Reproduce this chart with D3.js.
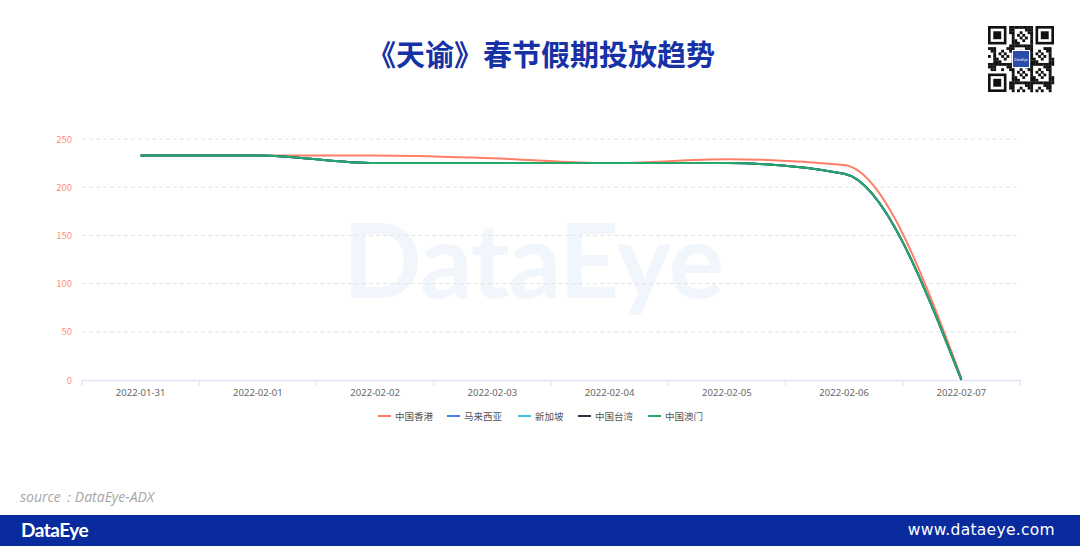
<!DOCTYPE html>
<html><head><meta charset="utf-8">
<script src="https://cdn.jsdelivr.net/npm/d3@7/dist/d3.min.js"></script>
<style>body{margin:0;background:#fff;}svg{display:block;font-family:"Noto Sans CJK SC","Noto Sans",sans-serif;}</style>
</head><body>
<svg id="c" width="1080" height="546"></svg>
<script>
const categories = ["2022-01-31","2022-02-01","2022-02-02","2022-02-03","2022-02-04","2022-02-05","2022-02-06","2022-02-07"];
const seriesNames = ["中国香港","马来西亚","新加坡","中国台湾","中国澳门"];
const seriesColors = ["#ff7f66","#4a7bef","#3cc3df","#2f3542","#26a86a"];
const hongkong = [233,233,233,230,225,229,223,2];
const malaysia = [233,233,225,225,225,225,214,0];
const singapore = [233,233,225,225,225,225,214,0];
const taiwan = [233,233,225,225,225,225,214,0];
const macau = [233,233,225,225,225,225,214,0];
const yTicks = [0,50,100,150,200,250];
const seriesValues = [hongkong, malaysia, singapore, taiwan, macau];

const svg = d3.select("#c");

// watermark
svg.append("text").attr("x",533).attr("y",298).attr("text-anchor","middle")
  .attr("font-family","Lato, 'DejaVu Sans', sans-serif").attr("font-weight",700)
  .attr("font-size",104).attr("fill","#f1f6fc").attr("letter-spacing",-1).text("DataEye");

// title
svg.append("text").attr("x",541).attr("y",66).attr("text-anchor","middle")
  .attr("font-size",29).attr("font-weight",700).attr("fill","#1632a6").text("《天谕》春节假期投放趋势");

const x = d3.scaleBand().domain(categories).range([82,1020]);
const y = d3.scaleLinear().domain([0,250]).range([380,139]);

// grid
svg.append("g").selectAll("line").data(yTicks.filter(d=>d>0)).join("line")
  .attr("x1",82).attr("x2",1020).attr("y1",d=>y(d)).attr("y2",d=>y(d))
  .attr("stroke","#e3e3e3").attr("stroke-dasharray","4,3");

// y labels
svg.append("g").selectAll("text").data(yTicks).join("text")
  .attr("x",72).attr("y",d=>y(d)+3.5).attr("text-anchor","end")
  .attr("font-size",9.5).attr("fill","#ff8f7c").text(d=>d);

// x axis
const xAxis = d3.axisBottom(x).tickSize(0).tickPadding(9);
const gx = svg.append("g").attr("transform","translate(0,380)").call(xAxis);
gx.select(".domain").attr("stroke","#dfe5f2").attr("stroke-width",1.5);
gx.selectAll("text").attr("font-size",9.5).attr("fill","#666").attr("font-family","'Noto Sans',sans-serif");
const edges = categories.map(c=>x(c)).concat([1020]);
svg.append("g").selectAll("line").data(edges).join("line")
  .attr("x1",d=>d).attr("x2",d=>d).attr("y1",380).attr("y2",386)
  .attr("stroke","#dfe5f2").attr("stroke-width",1.2);

// lines
const line = d3.line().x((d,i)=>x(categories[i])+x.bandwidth()/2).y(d=>y(d)).curve(d3.curveMonotoneX);
seriesValues.forEach((vals,i)=>{
  svg.append("path").attr("d",line(vals)).attr("fill","none")
    .attr("stroke",seriesColors[i]).attr("stroke-width",2);
});

// legend
const legendX = [378,447,518,578,648];
const lg = svg.append("g");
seriesNames.forEach((n,i)=>{
  lg.append("line").attr("x1",legendX[i]).attr("x2",legendX[i]+13).attr("y1",416).attr("y2",416)
    .attr("stroke",seriesColors[i]).attr("stroke-width",2);
  lg.append("text").attr("x",legendX[i]+17).attr("y",420).attr("font-size",9.5).attr("fill","#555").text(n);
});

// source
svg.append("text").attr("x",20).attr("y",502).attr("font-size",14).attr("font-style","italic")
  .attr("fill","#a6a6a6").attr("font-family","'Open Sans','Noto Sans',sans-serif").text("source：DataEye-ADX");

// footer
svg.append("rect").attr("x",0).attr("y",515).attr("width",1080).attr("height",31).attr("fill","#0a2b9e");
svg.append("text").attr("x",21).attr("y",537).attr("font-size",19).attr("font-weight",700)
  .attr("font-family","Lato, sans-serif").attr("fill","#fff").attr("letter-spacing",-0.5).text("DataEye");
svg.append("text").attr("x",1055).attr("y",535).attr("text-anchor","end").attr("font-size",15.5)
  .attr("font-family","'DejaVu Sans',sans-serif").attr("fill","#fff").attr("letter-spacing",0.3).text("www.dataeye.com");

// QR-like decoration
const qr = svg.append("g").attr("transform","translate(988,26)");
const n = 25, s = 66/n;
const bits = [];
for(let r=0;r<n;r++) for(let c=0;c<n;c++){
  const h = ((r*37+c*91+r*c*13)%7);
  if(h<3) bits.push([r,c]);
}
const inFinder=(r,c)=>(r<8&&c<8)||(r<8&&c>=n-8)||(r>=n-8&&c<8);
qr.selectAll("rect.b").data(bits.filter(([r,c])=>!inFinder(r,c))).join("rect")
  .attr("x",d=>d[1]*s).attr("y",d=>d[0]*s).attr("width",s+0.2).attr("height",s+0.2).attr("fill","#111");
[[0,0],[0,n-7],[n-7,0]].forEach(([r,c])=>{
  qr.append("rect").attr("x",c*s+s/2).attr("y",r*s+s/2).attr("width",6*s).attr("height",6*s).attr("fill","none").attr("stroke","#111").attr("stroke-width",s);
  qr.append("rect").attr("x",(c+2)*s).attr("y",(r+2)*s).attr("width",3*s).attr("height",3*s).attr("fill","#111");
});
qr.append("rect").attr("x",24).attr("y",24).attr("width",18).attr("height",18).attr("fill","#fff");
qr.append("rect").attr("x",25).attr("y",25).attr("width",16).attr("height",16).attr("fill","#2c4aa8");
qr.append("text").attr("x",33).attr("y",34.5).attr("text-anchor","middle").attr("font-size",3.5).attr("fill","#fff").text("DataEye");
</script>
</body></html>
